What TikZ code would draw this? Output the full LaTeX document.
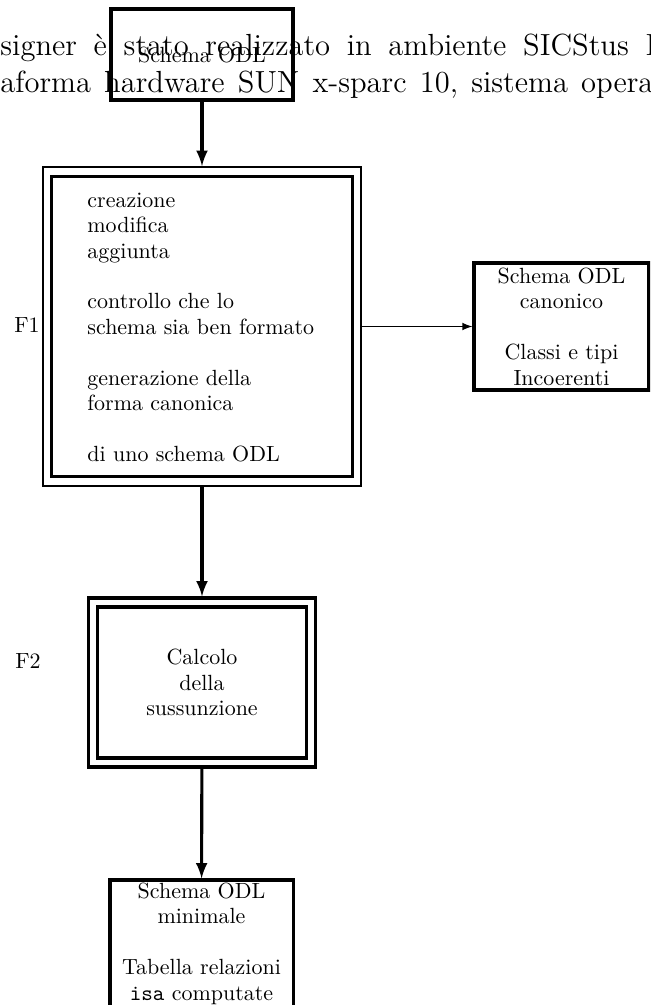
\documentclass[tikz,border=0pt]{standalone}
\usepackage{tikz}
\usetikzlibrary{arrows,positioning}

\begin{document}
\begin{tikzpicture}[x=0.455pt,y=-0.455pt,
          box/.style={draw,rectangle,line width=1.4pt,align=center,inner sep=0pt,font=\fontsize{10}{11.6}\selectfont},
          outer/.style={draw,rectangle,line width=0.9pt,inner sep=0pt},
          inner/.style={draw,rectangle,line width=1.4pt,inner sep=0pt,align=center,font=\fontsize{10}{11.6}\selectfont},
          lab/.style={inner sep=0pt,font=\fontsize{10}{11.6}\selectfont},
          page/.style={inner sep=0pt,anchor=base west,font=\fontsize{13.9}{16.8}\selectfont},
          flow/.style={draw,->,line width=1.4pt,>=latex},
          side/.style={draw,->,line width=0.6pt,>=latex}
        ]
        \useasboundingbox (0,0) rectangle (650,1005);
        \clip (0,0) rectangle (650,1005);

        %page text behind the figure
        \node[page] (riga1) at (0,55) {\spaceskip=7.6pt\relax signer è stato realizzato in ambiente SICStus P};
        \node[page] (riga2) at (0,92) {\spaceskip=6pt\relax aforma hardware SUN x-sparc 10, sistema opera};

        %boxes
        \node[box,minimum width=82.8pt,minimum height=41.4pt] (in) at (202,54.5) {Schema ODL};

        \node[outer,minimum width=144.7pt,minimum height=145.1pt] (F1o) at (202,326.5) {};
        \node[inner,minimum width=137pt,minimum height=136.5pt] (F1) at (F1o) {};
        \node[lab,anchor=west,align=left] (F1txt) at (87,327.5) {creazione\\ modifica\\ aggiunta\\[11.6pt]
              controllo che lo\\ schema sia ben formato\\[11.6pt]
              generazione della\\ forma canonica\\[11.6pt]
              di uno schema ODL};

        \node[box,minimum width=79.6pt,minimum height=57.8pt] (can) at (561.5,326.5)
              {Schema ODL\\ canonico\\[11.6pt] Classi e tipi\\ Incoerenti};

        \node[outer,line width=1.4pt,minimum width=103.7pt,minimum height=76.9pt] (F2o) at (202,682.5) {};
        \node[inner,minimum width=95.5pt,minimum height=68.7pt] (F2) at (F2o) {Calcolo\\ della\\ sussunzione};

        \node[box,minimum width=83.3pt,minimum height=57.8pt] (out) at (201.5,943.5)
              {Schema ODL\\ minimale\\[11.6pt] Tabella relazioni\\ \texttt{isa} computate};

        %labels
        \node[lab] (l1) at (27,325) {F1};
        \node[lab] (l2) at (28,661) {F2};

        %arrows
        \path[flow] (in) -- (F1o);
        \path[flow] (F1o) -- (F2o);
        \path[flow] (F2o) -- (out);
        \path[side] (F1o) -- (can);
    \end{tikzpicture}
\end{document}
